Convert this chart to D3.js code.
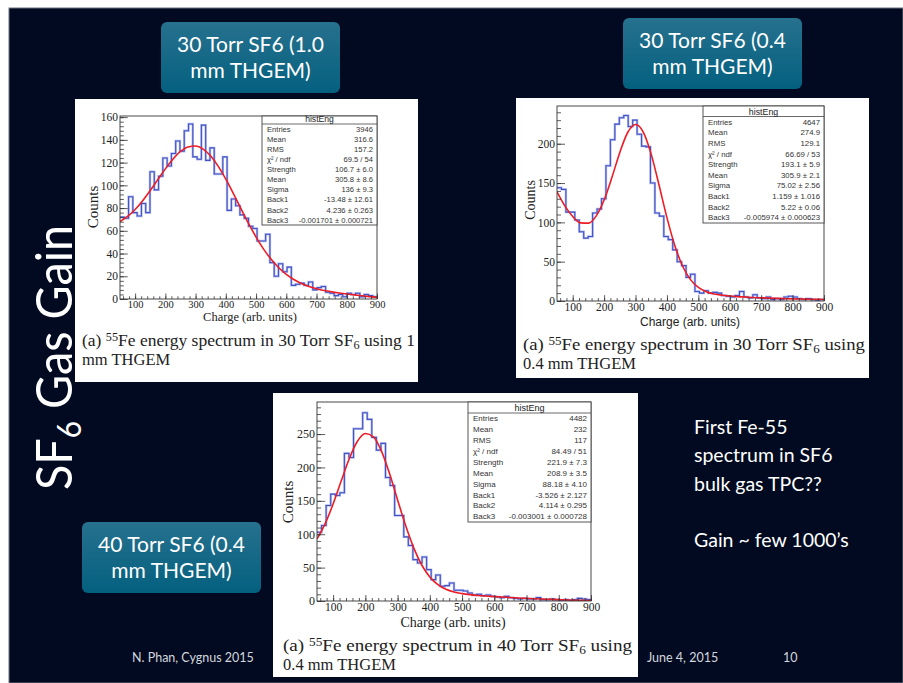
<!DOCTYPE html>
<html>
<head>
<meta charset="utf-8">
<style>
  body { margin: 0; background: #fff; }
  text { font-kerning: normal; }
</style>
</head>
<body>
<svg id="slide"></svg>
<script src="https://d3js.org/d3.v7.min.js"></script>
<script>
// bin contents, 60 bins between 50 and 900
counts1 = [72, 71, 90, 76, 73, 84, 76, 112, 96, 108, 124, 117, 128, 139, 130, 148, 154, 125, 123, 153,
           122, 133, 110, 110, 125, 78, 88, 82, 74, 71, 64, 62, 51, 51, 57, 32, 20, 31, 24, 28,
           12, 13, 14, 12, 15, 8, 10, 11, 6, 5, 3, 4, 2, 5, 4, 5, 2, 4, 3, 2]
counts2 = [144, 142, 113, 113, 103, 88, 80, 82, 112, 117, 130, 172, 205, 225, 233, 236, 222, 230, 212, 197,
           196, 150, 112, 108, 82, 78, 65, 50, 45, 30, 34, 12, 10, 13, 10, 11, 10, 7, 6, 5,
           7, 12, 5, 4, 8, 4, 3, 5, 2, 3, 2, 5, 6, 5, 3, 2, 3, 2, 1, 2]
counts3 = [103, 113, 143, 160, 158, 162, 221, 215, 258, 258, 282, 272, 245, 226, 236, 185, 173, 128, 128, 96,
           83, 62, 57, 66, 47, 32, 39, 22, 23, 27, 16, 16, 15, 12, 9, 10, 8, 9, 7, 6,
           5, 7, 5, 4, 3, 4, 3, 3, 5, 2, 2, 3, 2, 1, 2, 1, 2, 4, 3, 2]

// red fit curves, sampled every 25 units
fitX = [50, 75, 100, 125, 150, 175, 200, 225, 250, 275, 300, 325, 350, 375, 400, 425, 450, 475,
        500, 525, 550, 575, 600, 625, 650, 675, 700, 725, 750, 775, 800, 825, 850, 875, 900]
fit1 = [68.2, 72.6, 78.8, 86.5, 95.5, 105.0, 114.5, 123.0, 129.8, 133.8, 134.6, 131.9, 125.8, 116.7, 105.4, 92.8, 79.5, 66.5,
        54.5, 43.9, 34.9, 27.5, 21.7, 17.2, 13.7, 11.1, 9.1, 7.5, 6.3, 5.3, 4.4, 3.6, 2.8, 2.1, 1.5]
fit2 = [138.9, 121.0, 107.4, 99.3, 99.0, 108.3, 128.5, 157.4, 189.0, 214.3, 224.5, 214.6, 186.5, 147.2, 106.0, 70.6, 44.2, 27.2,
        17.3, 11.9, 9.0, 7.4, 6.4, 5.6, 5.0, 4.4, 4.0, 3.6, 3.3, 3.0, 2.7, 2.5, 2.3, 2.2, 2.0]
fit3 = [92.9, 115.5, 145.3, 179.6, 213.0, 238.8, 250.8, 245.8, 224.5, 190.8, 151.4, 112.9, 79.6, 53.9, 36.1, 24.6, 17.6, 13.5,
        11.1, 9.5, 8.3, 7.4, 6.6, 5.9, 5.2, 4.5, 4.0, 3.4, 2.9, 2.5, 2.0, 1.6, 1.2, 0.9, 0.6]

statNames = ["Entries", "Mean", "RMS", "\u03c7\u00b2 / ndf", "Strength", "Mean", "Sigma", "Back1", "Back2", "Back3"]
stats1 = ["3946", "316.6", "157.2", "69.5 / 54", "106.7 \u00b1 6.0", "305.8 \u00b1 8.6", "136 \u00b1 9.3",
          "-13.48 \u00b1 12.61", "4.236 \u00b1 0.263", "-0.001701 \u00b1 0.000721"]
stats2 = ["4647", "274.9", "129.1", "66.69 / 53", "193.1 \u00b1 5.9", "305.9 \u00b1 2.1", "75.02 \u00b1 2.56",
          "1.159 \u00b1 1.016", "5.22 \u00b1 0.06", "-0.005974 \u00b1 0.000623"]
stats3 = ["4482", "232", "117", "84.49 / 51", "221.9 \u00b1 7.3", "208.9 \u00b1 3.5", "88.18 \u00b1 4.10",
          "-3.526 \u00b1 2.127", "4.114 \u00b1 0.295", "-0.003001 \u00b1 0.000728"]

xTicks = [100, 200, 300, 400, 500, 600, 700, 800, 900]
yTicks1 = [0, 20, 40, 60, 80, 100, 120, 140, 160]
yTicks2 = [0, 50, 100, 150, 200]
yTicks3 = [0, 50, 100, 150, 200, 250]

width = 903
height = 683
serif = "'Liberation Serif', 'DejaVu Serif', serif"
sans = "'Liberation Sans', Arial, sans-serif"
cmr = "'Liberation Serif', serif"
slideFont = "Lato, 'Open Sans', sans-serif"

svg = d3.select('#slide').attr('width', width).attr('height', height)

defs = svg.append('defs')
grad = defs.append('linearGradient').attr('id', 'boxGrad')
    .attr('x1', 0).attr('y1', 0).attr('x2', 0).attr('y2', 1)
grad.append('stop').attr('offset', 0).attr('stop-color', '#26718e')
grad.append('stop').attr('offset', 1).attr('stop-color', '#04607f')

// slide background
svg.append('rect').attr('width', width).attr('height', height).attr('fill', '#fff')
svg.append('rect').attr('x', 9).attr('y', 8).attr('width', width - 9).attr('height', height - 8)
    .attr('fill', '#010a20').attr('stroke', '#6d7380').attr('stroke-width', 1)

function drawPanel(p) {
    var g = svg.append('g')
    g.append('rect').attr('x', p.box[0]).attr('y', p.box[1])
        .attr('width', p.box[2] - p.box[0]).attr('height', p.box[3] - p.box[1]).attr('fill', '#fff')

    var x = d3.scaleLinear().domain([50, 900]).range([p.frame[0], p.frame[2]])
    var y = d3.scaleLinear().domain([0, p.ymax]).range([p.frame[3], p.frame[1]])
    var fw = p.frame[2] - p.frame[0], fh = p.frame[3] - p.frame[1]

    var clipId = 'clip' + p.id
    defs.append('clipPath').attr('id', clipId).append('rect')
        .attr('x', p.frame[0]).attr('y', p.frame[1]).attr('width', fw).attr('height', fh)

    // histogram outline
    var binW = 850 / p.counts.length
    var pts = p.counts.map(function(c, i) { return [50 + i * binW, c] })
    pts.push([900, p.counts[p.counts.length - 1]])
    var step = d3.line().x(function(d) { return x(d[0]) }).y(function(d) { return y(d[1]) })
        .curve(d3.curveStepAfter)
    g.append('path').attr('d', step(pts)).attr('fill', 'none')
        .attr('stroke', '#b4bcee').attr('stroke-width', 2.4).attr('clip-path', 'url(#' + clipId + ')')
    g.append('path').attr('d', step(pts)).attr('fill', 'none')
        .attr('stroke', '#4253c6').attr('stroke-width', 1.1).attr('clip-path', 'url(#' + clipId + ')')

    // fit
    var fitLine = d3.line().x(function(d, i) { return x(fitX[i]) }).y(function(d) { return y(d) })
        .curve(d3.curveMonotoneX)
    g.append('path').attr('d', fitLine(p.fit)).attr('fill', 'none')
        .attr('stroke', '#ee1c24').attr('stroke-width', 1.6).attr('clip-path', 'url(#' + clipId + ')')

    // axes
    var yMinor = d3.range(0, p.ymax + 0.001, p.yMinor)
    var xMinor = d3.range(60, 901, 20)
    var ax = g.append('g').attr('transform', 'translate(' + p.frame[0] + ',0)')
        .call(d3.axisLeft(y).tickValues(p.yTicks).tickSizeInner(-fw * 0.03).tickSizeOuter(0).tickPadding(2))
    ax.append('g').call(d3.axisLeft(y).tickValues(yMinor).tickSize(-fw * 0.015).tickFormat(''))
    var bx = g.append('g').attr('transform', 'translate(0,' + p.frame[3] + ')')
        .call(d3.axisBottom(x).tickValues(xTicks).tickSizeInner(-fh * 0.03).tickSizeOuter(0).tickPadding(2))
    bx.append('g').call(d3.axisBottom(x).tickValues(xMinor).tickSize(-fh * 0.015).tickFormat(''))
    g.selectAll('.domain').remove()
    g.selectAll('.tick line').attr('stroke', '#333').attr('stroke-width', 0.8)
    ax.selectAll('text').attr('font-family', serif).attr('font-size', p.tickFs).attr('fill', '#222')
    bx.selectAll('text').attr('font-family', serif).attr('font-size', p.xTickFs).attr('fill', '#222')

    g.append('rect').attr('x', p.frame[0]).attr('y', p.frame[1]).attr('width', fw).attr('height', fh)
        .attr('fill', 'none').attr('stroke', '#333').attr('stroke-width', 0.9)

    // axis titles
    g.append('text').attr('transform', 'translate(' + p.yLab[0] + ',' + p.yLab[1] + ') rotate(-90)')
        .attr('text-anchor', 'middle').attr('font-family', serif).attr('font-size', p.yLabFs)
        .attr('fill', '#222').text('Counts')
    g.append('text').attr('x', p.xLab[0]).attr('y', p.xLab[1]).attr('text-anchor', 'middle')
        .attr('font-family', p.xLabFont).attr('font-size', p.xLabFs).attr('fill', '#222')
        .text('Charge (arb. units)')

    // stat box
    var sb = p.stat
    g.append('rect').attr('x', sb[0]).attr('y', p.frame[1]).attr('width', p.frame[2] - sb[0])
        .attr('height', sb[1] - p.frame[1]).attr('fill', '#fff').attr('stroke', '#444').attr('stroke-width', 0.9)
    g.append('line').attr('x1', sb[0]).attr('x2', p.frame[2]).attr('y1', sb[2]).attr('y2', sb[2])
        .attr('stroke', '#444').attr('stroke-width', 0.8)
    g.append('text').attr('x', (sb[0] + p.frame[2]) / 2).attr('y', sb[2] - 2).attr('text-anchor', 'middle')
        .attr('font-family', sans).attr('font-size', p.statFs + 1).attr('fill', '#222').text('histEng')
    var rowH = (sb[1] - sb[2]) / statNames.length
    statNames.forEach(function(n, i) {
        var yy = sb[2] + rowH * (i + 0.5) + p.statFs * 0.35
        g.append('text').attr('x', sb[0] + 5).attr('y', yy).attr('font-family', sans)
            .attr('font-size', p.statFs).attr('fill', '#333').text(n)
        g.append('text').attr('x', p.frame[2] - 4).attr('y', yy).attr('text-anchor', 'end')
            .attr('font-family', sans).attr('font-size', p.statFs).attr('fill', '#333').text(p.stats[i])
    })

    // caption
    var c1 = g.append('text').attr('x', p.cap[0]).attr('y', p.cap[1]).attr('font-family', cmr)
        .attr('font-size', p.capFs).attr('fill', '#222')
        .attr('textLength', p.cap[2]).attr('lengthAdjust', 'spacingAndGlyphs')
    c1.append('tspan').text('(a) ')
    c1.append('tspan').attr('font-size', p.capFs * 0.7).attr('dy', -5).text('55')
    c1.append('tspan').attr('dy', 5).text('Fe energy spectrum in ' + p.torr + ' Torr SF')
    c1.append('tspan').attr('font-size', p.capFs * 0.7).attr('dy', 3).text('6')
    c1.append('tspan').attr('dy', -3).text(' using' + p.capTail)
    g.append('text').attr('x', p.cap[0]).attr('y', p.cap[1] + 19).attr('font-family', cmr)
        .attr('font-size', p.capFs).attr('fill', '#222').text(p.cap2)
}

drawPanel({ id: 1, box: [75, 99, 418, 382], frame: [120, 116, 377, 299], ymax: 161,
    counts: counts1, fit: fit1, stats: stats1, yTicks: yTicks1, yMinor: 4,
    tickFs: 11.5, xTickFs: 10.5, yLab: [98, 207], yLabFs: 15, xLab: [250, 321], xLabFont: serif, xLabFs: 12.5,
    stat: [262, 225, 124], statFs: 7.6,
    cap: [82, 346, 333], capFs: 16.5, torr: '30', capTail: ' 1', cap2: 'mm THGEM' })

drawPanel({ id: 2, box: [516, 98, 869, 378], frame: [557, 106, 824, 301], ymax: 248,
    counts: counts2, fit: fit2, stats: stats2, yTicks: yTicks2, yMinor: 10,
    tickFs: 11.5, xTickFs: 11.5, yLab: [535, 200], yLabFs: 14, xLab: [690, 326], xLabFont: sans, xLabFs: 12,
    stat: [703, 223, 116.5], statFs: 7.8,
    cap: [523, 350, 342], capFs: 16.5, torr: '30', capTail: '', cap2: '0.4 mm THGEM' })

drawPanel({ id: 3, box: [273, 393, 638, 677], frame: [317, 402, 591, 601], ymax: 298,
    counts: counts3, fit: fit3, stats: stats3, yTicks: yTicks3, yMinor: 10,
    tickFs: 12, xTickFs: 11.5, yLab: [293, 502], yLabFs: 15, xLab: [453, 627], xLabFont: serif, xLabFs: 14,
    stat: [468, 522, 413], statFs: 8,
    cap: [283, 651, 349], capFs: 16.5, torr: '40', capTail: '', cap2: '0.4 mm THGEM' })

// label boxes
labelBoxes = [
    { x: 161, y: 22, lines: ['30 Torr SF6 (1.0', 'mm THGEM)'] },
    { x: 623, y: 18, lines: ['30 Torr SF6 (0.4', 'mm THGEM)'] },
    { x: 82, y: 522, lines: ['40 Torr SF6 (0.4', 'mm THGEM)'] }
]
labelBoxes.forEach(function(b) {
    svg.append('rect').attr('x', b.x).attr('y', b.y).attr('width', 179).attr('height', 71)
        .attr('rx', 6).attr('fill', 'url(#boxGrad)')
    b.lines.forEach(function(l, i) {
        svg.append('text').attr('x', b.x + 89.5).attr('y', b.y + 30 + i * 26).attr('text-anchor', 'middle')
            .attr('font-family', slideFont).attr('font-size', 21).attr('fill', '#fff').text(l)
    })
})

// side title
title = svg.append('text').attr('transform', 'translate(72,490) rotate(-90)')
    .attr('font-family', slideFont).attr('font-size', 50).attr('fill', '#fff')
    .attr('textLength', 265).attr('lengthAdjust', 'spacingAndGlyphs')
title.append('tspan').text('SF')
title.append('tspan').attr('font-size', 32).attr('dy', 9).text('6')
title.append('tspan').attr('dy', -9).text(' Gas Gain')

// notes on the right
notes = ['First Fe-55', 'spectrum in SF6', 'bulk gas TPC??', '', "Gain ~ few 1000\u2019s"]
notes.forEach(function(n, i) {
    svg.append('text').attr('x', 694).attr('y', 434 + i * 28.3).attr('font-family', slideFont)
        .attr('font-size', 19.5).attr('fill', '#fff').text(n)
})

// footer
footer = [['N. Phan, Cygnus 2015', 132], ['June 4, 2015', 647], ['10', 783]]
footer.forEach(function(f) {
    svg.append('text').attr('x', f[1]).attr('y', 662).attr('font-family', slideFont)
        .attr('font-size', 12.5).attr('fill', '#d4d7de').text(f[0])
})
</script>
</body>
</html>
